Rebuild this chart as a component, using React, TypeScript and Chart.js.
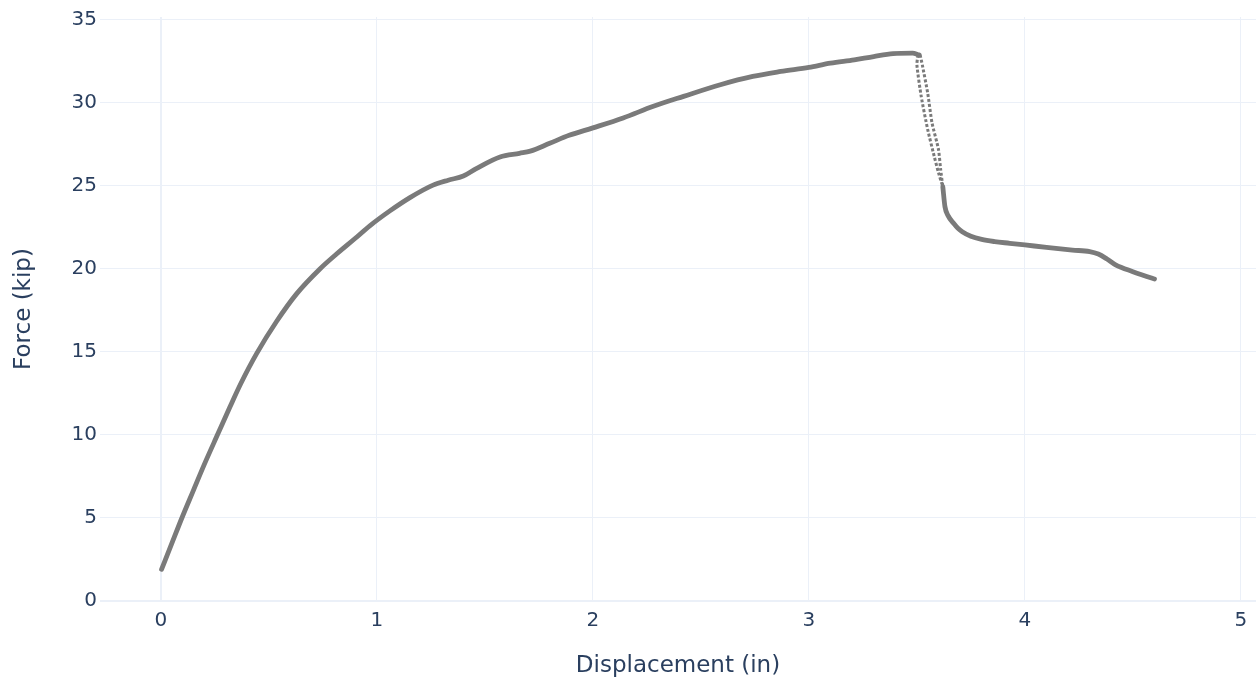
import { useEffect, useRef } from "react";
import { Chart, registerables } from "chart.js";

Chart.register(...registerables);

// Loading branch up to peak (displacement in, force kip)
const loadDisp = [0.003, 0.05, 0.097, 0.15, 0.2, 0.265, 0.32, 0.37, 0.443, 0.536, 0.628, 0.736, 0.813, 0.9, 0.967, 1.06, 1.153, 1.26, 1.33, 1.4, 1.46, 1.57, 1.66, 1.71, 1.8, 1.89, 2.0, 2.14, 2.28, 2.42, 2.59, 2.74, 2.87, 3.0, 3.1, 3.21, 3.3, 3.39, 3.48, 3.51];
const loadForce = [1.91, 3.45, 5.0, 6.65, 8.2, 10.1, 11.7, 13.1, 14.9, 16.85, 18.5, 20.0, 20.9, 21.85, 22.6, 23.5, 24.3, 25.05, 25.35, 25.6, 26.05, 26.75, 26.97, 27.1, 27.57, 28.05, 28.5, 29.1, 29.8, 30.4, 31.1, 31.6, 31.9, 32.15, 32.4, 32.6, 32.8, 32.97, 33.0, 32.9];

// Sudden drop: two sparse strands
const dropLeftDisp = [3.505, 3.5, 3.52, 3.55, 3.58, 3.6, 3.62];
const dropLeftForce = [32.9, 32.3, 30.4, 28.4, 26.8, 25.8, 24.96];
const dropRightDisp = [3.515, 3.525, 3.55, 3.57, 3.6, 3.61, 3.62];
const dropRightForce = [32.9, 32.3, 30.6, 28.8, 27.2, 26.0, 24.96];

// Post-drop residual branch
const postDisp = [3.62, 3.63, 3.645, 3.67, 3.69, 3.71, 3.75, 3.8, 3.86, 3.93, 4.0, 4.1, 4.22, 4.3, 4.34, 4.38, 4.42, 4.5, 4.59, 4.6];
const postForce = [24.96, 23.75, 23.2, 22.75, 22.45, 22.25, 21.97, 21.78, 21.65, 21.55, 21.45, 21.3, 21.14, 21.05, 20.9, 20.6, 20.25, 19.84, 19.44, 19.4];

const xTickValues = [0, 1, 2, 3, 4, 5];
const yTickValues = [0, 5, 10, 15, 20, 25, 30, 35];

const pts = (xs: number[], ys: number[]) => xs.map((x, i) => ({ x, y: ys[i] }));

export default function App() {
  const ref = useRef<HTMLCanvasElement | null>(null);

  useEffect(() => {
    if (!ref.current) return;
    const textColor = "#2a3f5f";
    const gridColor = "#EBF0F8";
    const family = "'DejaVu Sans', Verdana, sans-serif";
    const markColor = "#7a7a7a";
    const chart = new Chart(ref.current, {
      type: "line",
      data: {
        datasets: [
          { data: pts(loadDisp, loadForce), borderColor: markColor, borderWidth: 4.8, pointRadius: 0, cubicInterpolationMode: "monotone", borderCapStyle: "round", borderJoinStyle: "round" },
          { data: pts(dropLeftDisp, dropLeftForce), borderColor: markColor, borderWidth: 3, borderDash: [3, 2], pointRadius: 0, tension: 0.2 },
          { data: pts(dropRightDisp, dropRightForce), borderColor: markColor, borderWidth: 3, borderDash: [3, 2], pointRadius: 0, tension: 0.2 },
          { data: pts(postDisp, postForce), borderColor: markColor, borderWidth: 4.8, pointRadius: 0, cubicInterpolationMode: "monotone", borderCapStyle: "round", borderJoinStyle: "round" },
        ],
      },
      options: {
        animation: false,
        responsive: false,
        maintainAspectRatio: false,
        layout: { padding: { top: 17, right: 4, left: 0, bottom: 0 } },
        plugins: { legend: { display: false }, tooltip: { enabled: false } },
        scales: {
          x: {
            type: "linear",
            min: -0.282,
            max: 5.07,
            afterBuildTicks: (s: any) => { s.ticks = xTickValues.map((v) => ({ value: v })); },
            afterFit: (s: any) => { s.height = 82; },
            ticks: { font: { family, size: 20 }, color: textColor, padding: 8, includeBounds: false },
            grid: { color: gridColor, lineWidth: (c: any) => (c.tick && c.tick.value === 0 ? 2 : 1), drawTicks: false },
            border: { display: false },
            title: { display: true, text: "Displacement (in)", font: { family, size: 23 }, color: textColor, padding: { top: 4, bottom: 3 } },
          },
          y: {
            type: "linear",
            min: 0,
            max: 35.18,
            afterBuildTicks: (s: any) => { s.ticks = yTickValues.map((v) => ({ value: v })); },
            afterFit: (s: any) => { s.width = 100; },
            ticks: { font: { family, size: 20 }, color: textColor, padding: 3, includeBounds: false },
            grid: { color: gridColor, lineWidth: (c: any) => (c.tick && c.tick.value === 0 ? 2 : 1), drawTicks: false },
            border: { display: false },
            title: { display: true, text: "Force (kip)", font: { family, size: 23 }, color: textColor, padding: { top: 10, bottom: 4 } },
          },
        },
      },
    });
    return () => chart.destroy();
  }, []);

  return (
    <div style={{ position: "fixed", left: 0, top: 0, width: 1260, height: 683, background: "#fff" }}>
      <canvas ref={ref} width={1260} height={683} />
    </div>
  );
}
